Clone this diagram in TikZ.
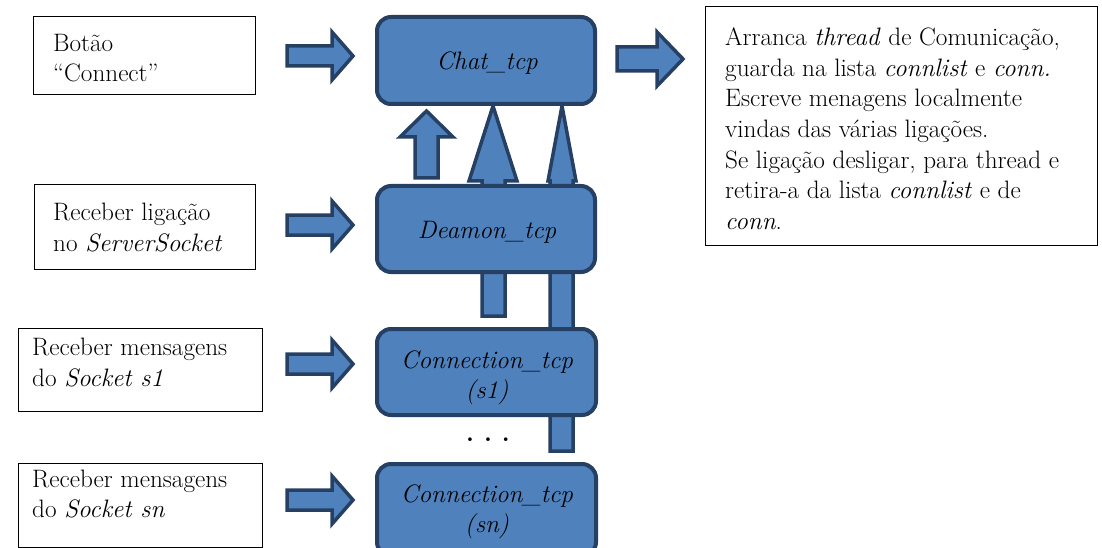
\documentclass[tikz,border=0pt]{standalone}
\usepackage{fontspec}
\definecolor{bfill}{HTML}{4F81BD}
\definecolor{bdark}{HTML}{264064}
\begin{document}
\begin{tikzpicture}[x=1pt,y=-1pt,
  bluebox/.style={draw=bdark, fill=bfill, line width=4pt, rounded corners=14pt, inner sep=0pt},
  barrow/.style={draw=bdark, fill=bfill, line width=3.5pt, line join=miter},
  tbox/.style={draw=black, line width=1pt, inner sep=0pt},
  txt/.style={inner sep=0pt, font=\fontsize{25.2}{30.5}\selectfont},
  ltxt/.style={txt, anchor=base west},
  ctxt/.style={txt, anchor=base, font=\fontsize{25.2}{30.5}\selectfont\itshape},
  inarrow/.pic={\draw[barrow] (-33,-10) -- (12,-10) -- (12,-24) -- (33,0) -- (12,24) -- (12,10) -- (-33,10) -- cycle;}
  ]
\useasboundingbox (0,0) rectangle (1102,548);
\clip (0,0) rectangle (1102,548);

% vertical block arrows (behind the boxes)
\draw[barrow] (415,178) -- (415,137) -- (400,137) -- (426.5,111) -- (453,137) -- (438,137) -- (438,178) -- cycle;
\draw[barrow] (482,316) -- (482,181) -- (469,181) -- (493,106) -- (517,181) -- (505,181) -- (505,316) -- cycle;
\draw[barrow] (550,451) -- (550,181) -- (548,181) -- (562,106) -- (576,181) -- (573,181) -- (573,451) -- cycle;

% blue process boxes
\node[bluebox, minimum width=218pt, minimum height=87pt] (chat) at (486,60.5) {};
\node[bluebox, minimum width=218pt, minimum height=86pt] (deamon) at (486,229) {};
\node[bluebox, minimum width=219pt, minimum height=86pt] (conn1) at (486.5,372) {};
\node[bluebox, minimum width=219pt, minimum height=92pt] (connn) at (486.5,510) {};

\node[ctxt] (chatT) at (487,70) {Chat\_tcp};
\node[ctxt] (deamonT) at (487,238) {Deamon\_tcp};
\node[ctxt] (conn1T) at (487,368) {Connection\_tcp};
\node[ctxt] (conn1S) at (487,398) {(s1)};
\node[ctxt] (connnT) at (487,502) {Connection\_tcp};
\node[ctxt] (connnS) at (487,532) {(sn)};

\node[txt, anchor=base, font=\fontsize{25.2}{30.5}\selectfont\bfseries] (dots) at (488,441) {.\hspace{10pt}.\hspace{10pt}.};

% left text boxes
\node[tbox, minimum width=222pt, minimum height=78pt] (b1) at (144,56) {};
\node[ltxt] (b1a) at (53,52) {Botão};
\node[ltxt] (b1b) at (53,82) {“Connect”};

\node[tbox, minimum width=221pt, minimum height=84pt] (b2) at (144.5,227) {};
\node[ltxt] (b2a) at (53,220) {Receber ligação};
\node[ltxt] (b2b) at (53,251) {no \textit{ServerSocket}};

\node[tbox, minimum width=244pt, minimum height=83pt] (b3) at (140,369.5) {};
\node[ltxt] (b3a) at (32,355) {Receber mensagens};
\node[ltxt] (b3b) at (32,386) {do \textit{Socket s1}};

\node[tbox, minimum width=244pt, minimum height=84pt] (b4) at (140,505) {};
\node[ltxt] (b4a) at (32,487) {Receber mensagens};
\node[ltxt] (b4b) at (32,517) {do \textit{Socket sn}};

% input arrows
\pic at (320,56) {inarrow};
\pic at (320,225) {inarrow};
\pic at (320,364) {inarrow};
\pic at (320,500) {inarrow};

% output arrow
\draw[barrow] (617,47) -- (657,47) -- (657,32) -- (683,59) -- (657,86) -- (657,71) -- (617,71) -- cycle;

% right description box
\node[tbox, minimum width=392pt, minimum height=238pt] (desc) at (901,126) {};
\node[ltxt] (d1) at (725,46) {Arranca \textit{thread} de Comunicação,};
\node[ltxt] (d2) at (725,76.5) {guarda na lista \textit{connlist} e \textit{conn.}};
\node[ltxt] (d3) at (725,107) {Escreve menagens localmente};
\node[ltxt] (d4) at (725,137.5) {vindas das várias ligações.};
\node[ltxt] (d5) at (725,168) {Se ligação desligar, para thread e};
\node[ltxt] (d6) at (725,198.5) {retira-a da lista \textit{connlist} e de};
\node[ltxt] (d7) at (725,229) {\textit{conn}.};
\end{tikzpicture}
\end{document}
